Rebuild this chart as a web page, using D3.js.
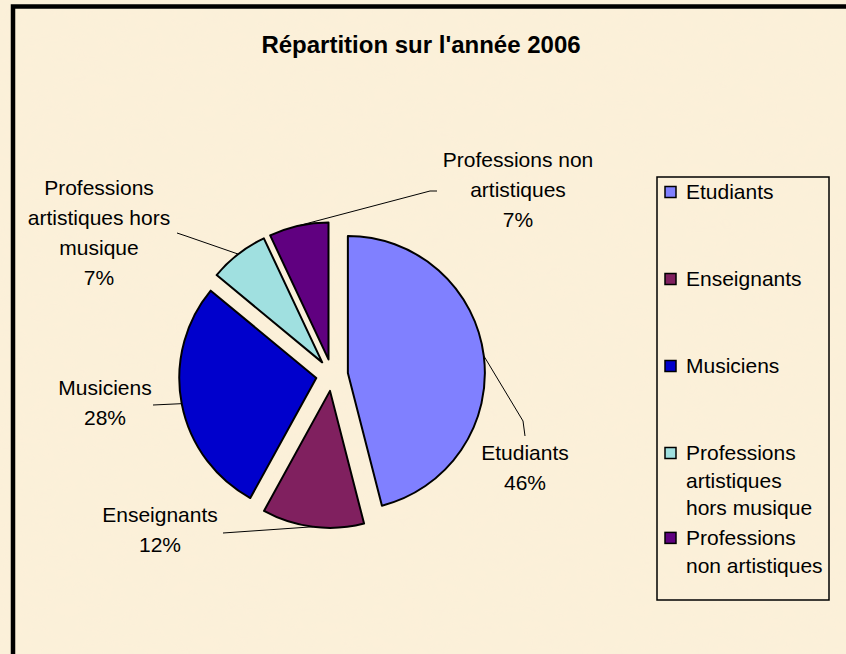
<!DOCTYPE html>
<html>
<head>
<meta charset="utf-8">
<script src="https://cdn.jsdelivr.net/npm/d3@7.9.0/dist/d3.min.js"></script>
<style>
  body { margin: 0; background: #fff; }
  svg { display: block; font-family: "Liberation Sans", Arial, sans-serif; }
</style>
</head>
<body>
<svg id="chart" width="846" height="654"></svg>
<script>
// data
const title = "Répartition sur l'année 2006";
const categories = ['Etudiants', 'Enseignants', 'Musiciens', 'Professions artistiques hors musique', 'Professions non artistiques'];
const values = [46, 12, 28, 7, 7];
const colors = ['#8080ff', '#80205f', '#0000cc', '#a0e0e0', '#600080'];

// how the names wrap on the chart and in the legend
const labelLines = [['Etudiants'], ['Enseignants'], ['Musiciens'], ['Professions', 'artistiques hors', 'musique'], ['Professions non', 'artistiques']];
const legendLines = [['Etudiants'], ['Enseignants'], ['Musiciens'], ['Professions', 'artistiques', 'hors musique'], ['Professions', 'non artistiques']];

// where Excel left the data labels (centre of first line) and leader line bends
const labelPos = [[525, 453], [160, 515], [105, 388], [99, 188], [518, 160]];
const leaderEnds = [
    [[523, 421], [525, 436]],
    [[223, 533]],
    [[153, 405]],
    [[186, 236], [177, 233]],
    [[430, 191], [437, 191]]
];

const width = 846, height = 654;
const cx = 332, cy = 375, radius = 137, explode = 16;

const svg = d3.select('#chart');

// parchment background
const defs = svg.append('defs');
const filt = defs.append('filter').attr('id', 'paper').attr('x', 0).attr('y', 0).attr('width', '100%').attr('height', '100%');
filt.append('feTurbulence').attr('type', 'fractalNoise').attr('baseFrequency', '0.035 0.06').attr('numOctaves', 2).attr('seed', 3).attr('result', 'n');
filt.append('feColorMatrix').attr('in', 'n').attr('type', 'matrix')
    .attr('values', '0 0 0 0 0.93  0 0 0 0 0.86  0 0 0 0 0.70  0 0 0 0.25 0')
    .attr('result', 'c');
filt.append('feComposite').attr('in', 'c').attr('in2', 'SourceGraphic').attr('operator', 'in');

svg.append('rect').attr('width', width).attr('height', height).attr('fill', '#fcf0d9');
svg.append('rect').attr('width', width).attr('height', height).attr('fill', '#fff').attr('filter', 'url(#paper)');

// frame (only top and left show in the crop)
svg.append('path')
    .attr('d', `M13,${height} V6.5 H${width}`)
    .attr('fill', 'none')
    .attr('stroke', '#000')
    .attr('stroke-width', 4.5);

svg.append('text')
    .attr('x', 421).attr('y', 53)
    .attr('text-anchor', 'middle')
    .attr('font-weight', 'bold')
    .attr('font-size', 24)
    .attr('fill', '#000')
    .text(title);

// pie
const pie = d3.pie().sort(null).value(d => d);
const arcs = pie(values);
const total = d3.sum(values);
const pct = d3.format('.0%');
const arc = d3.arc().innerRadius(0).outerRadius(radius);
const edge = d3.arc().innerRadius(radius).outerRadius(radius);

function offset(d) {
    const a = (d.startAngle + d.endAngle) / 2;
    return [cx + explode * Math.sin(a), cy - explode * Math.cos(a)];
}

const slices = svg.append('g');
arcs.forEach((d, i) => {
    const [ox, oy] = offset(d);
    slices.append('path')
        .attr('transform', `translate(${ox},${oy})`)
        .attr('d', arc(d))
        .attr('fill', colors[i])
        .attr('stroke', '#000')
        .attr('stroke-width', 2)
        .attr('stroke-linejoin', 'round');
});

// leader lines
const line = d3.line();
arcs.forEach((d, i) => {
    const [ox, oy] = offset(d);
    const c = edge.centroid(d);
    const pts = [[ox + c[0], oy + c[1]], ...leaderEnds[i]];
    svg.append('path')
        .attr('d', line(pts))
        .attr('fill', 'none')
        .attr('stroke', '#000')
        .attr('stroke-width', 1);
});

// data labels
arcs.forEach((d, i) => {
    const lines = [...labelLines[i], pct(d.value / total)];
    const t = svg.append('text')
        .attr('text-anchor', 'middle')
        .attr('font-size', 21)
        .attr('fill', '#000');
    lines.forEach((s, j) => {
        t.append('tspan')
            .attr('x', labelPos[i][0])
            .attr('y', labelPos[i][1] + j * 30)
            .attr('dy', '0.35em')
            .text(s);
    });
});

// legend
svg.append('rect')
    .attr('x', 657).attr('y', 177)
    .attr('width', 172).attr('height', 423)
    .attr('fill', 'none')
    .attr('stroke', '#000')
    .attr('stroke-width', 1.5);

let ly = 192;
categories.forEach((name, i) => {
    if (i > 0) {
        const prev = legendLines[i - 1].length;
        ly += prev > 1 ? prev * 28.3 : 87;
    }
    svg.append('rect')
        .attr('x', 665).attr('y', ly - 5.5)
        .attr('width', 11).attr('height', 11)
        .attr('fill', colors[i])
        .attr('stroke', '#000')
        .attr('stroke-width', 1.5);
    const t = svg.append('text')
        .attr('font-size', 21)
        .attr('fill', '#000');
    legendLines[i].forEach((s, j) => {
        t.append('tspan')
            .attr('x', 686)
            .attr('y', ly + j * 27.5)
            .attr('dy', '0.35em')
            .text(s);
    });
});
</script>
</body>
</html>
